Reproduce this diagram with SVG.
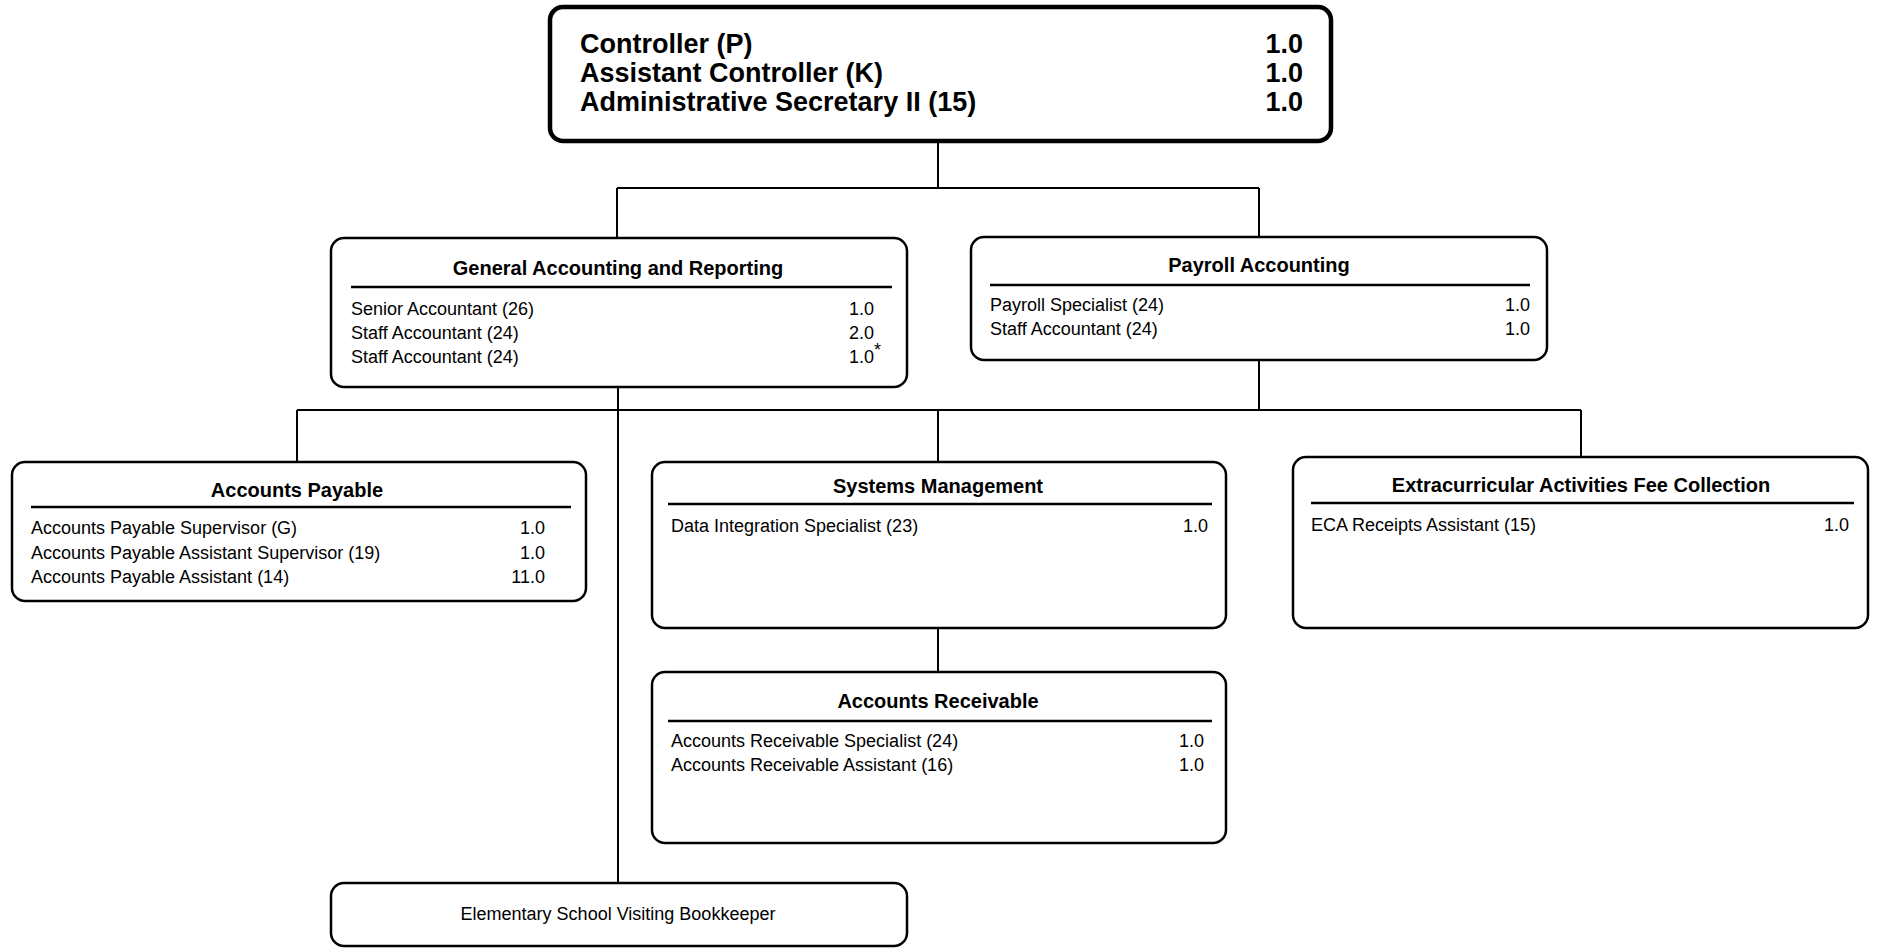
<svg xmlns="http://www.w3.org/2000/svg" width="1878" height="950" viewBox="0 0 1878 950">
<style>
.box{fill:#fff;stroke:#000;stroke-width:2.5}
.top{fill:#fff;stroke:#000;stroke-width:4.5}
.rule{stroke:#000;stroke-width:2.5}
.conn{fill:none;stroke:#000;stroke-width:2}
text{font-family:"Liberation Sans",Arial,sans-serif;fill:#000}
.t{font-size:20px;font-weight:bold;text-anchor:middle}
.r{font-size:18px}
.n{font-size:18px;text-anchor:end}
.b{font-size:27px;font-weight:bold}
.bn{font-size:27px;font-weight:bold;text-anchor:end}
</style>
<rect width="1878" height="950" fill="#fff"/>
<g id="connectors">
<path class="conn" d="M938 141V188M617 188H1259M617 188V238M1259 188V237"/>
<path class="conn" d="M618 387V883"/>
<path class="conn" d="M1259 360V410M297 410H1581M297 410V462M938 410V462M1581 410V457"/>
<path class="conn" d="M938 628V672"/>
</g>
<g id="controller">
<rect class="top" x="550" y="7" width="781" height="134" rx="13"/>
<text class="b" x="580" y="53">Controller (P)</text>
<text class="bn" x="1303" y="53">1.0</text>
<text class="b" x="580" y="82">Assistant Controller (K)</text>
<text class="bn" x="1303" y="82">1.0</text>
<text class="b" x="580" y="111">Administrative Secretary II (15)</text>
<text class="bn" x="1303" y="111">1.0</text>
</g>
<g id="general-accounting">
<rect class="box" x="331" y="238" width="576" height="149" rx="13"/>
<text class="t" x="618" y="275">General Accounting and Reporting</text>
<line class="rule" x1="351" y1="287" x2="892" y2="287"/>
<text class="r" x="351" y="315">Senior Accountant (26)</text>
<text class="n" x="874" y="315">1.0</text>
<text class="r" x="351" y="339">Staff Accountant (24)</text>
<text class="n" x="874" y="339">2.0</text>
<text class="r" x="351" y="363">Staff Accountant (24)</text>
<text class="n" x="874" y="363">1.0</text>
<text class="r" x="874" y="356" font-size="13">*</text>
</g>
<g id="payroll">
<rect class="box" x="971" y="237" width="576" height="123" rx="13"/>
<text class="t" x="1259" y="272">Payroll Accounting</text>
<line class="rule" x1="990" y1="285" x2="1530" y2="285"/>
<text class="r" x="990" y="311">Payroll Specialist (24)</text>
<text class="n" x="1530" y="311">1.0</text>
<text class="r" x="990" y="335">Staff Accountant (24)</text>
<text class="n" x="1530" y="335">1.0</text>
</g>
<g id="accounts-payable">
<rect class="box" x="12" y="462" width="574" height="139" rx="13"/>
<text class="t" x="297" y="497">Accounts Payable</text>
<line class="rule" x1="31" y1="507" x2="571" y2="507"/>
<text class="r" x="31" y="534">Accounts Payable Supervisor (G)</text>
<text class="n" x="545" y="534">1.0</text>
<text class="r" x="31" y="559">Accounts Payable Assistant Supervisor (19)</text>
<text class="n" x="545" y="559">1.0</text>
<text class="r" x="31" y="583">Accounts Payable Assistant (14)</text>
<text class="n" x="545" y="583">11.0</text>
</g>
<g id="systems-management">
<rect class="box" x="652" y="462" width="574" height="166" rx="13"/>
<text class="t" x="938" y="493">Systems Management</text>
<line class="rule" x1="668" y1="504" x2="1212" y2="504"/>
<text class="r" x="671" y="532">Data Integration Specialist (23)</text>
<text class="n" x="1208" y="532">1.0</text>
</g>
<g id="eca-fee-collection">
<rect class="box" x="1293" y="457" width="575" height="171" rx="13"/>
<text class="t" x="1581" y="492">Extracurricular Activities Fee Collection</text>
<line class="rule" x1="1311" y1="503" x2="1854" y2="503"/>
<text class="r" x="1311" y="531">ECA Receipts Assistant (15)</text>
<text class="n" x="1849" y="531">1.0</text>
</g>
<g id="accounts-receivable">
<rect class="box" x="652" y="672" width="574" height="171" rx="13"/>
<text class="t" x="938" y="708">Accounts Receivable</text>
<line class="rule" x1="668" y1="721" x2="1212" y2="721"/>
<text class="r" x="671" y="747">Accounts Receivable Specialist (24)</text>
<text class="n" x="1204" y="747">1.0</text>
<text class="r" x="671" y="771">Accounts Receivable Assistant (16)</text>
<text class="n" x="1204" y="771">1.0</text>
</g>
<g id="elementary-bookkeeper">
<rect class="box" x="331" y="883" width="576" height="63" rx="13"/>
<text class="r" x="618" y="920" text-anchor="middle">Elementary School Visiting Bookkeeper</text>
</g>
</svg>
